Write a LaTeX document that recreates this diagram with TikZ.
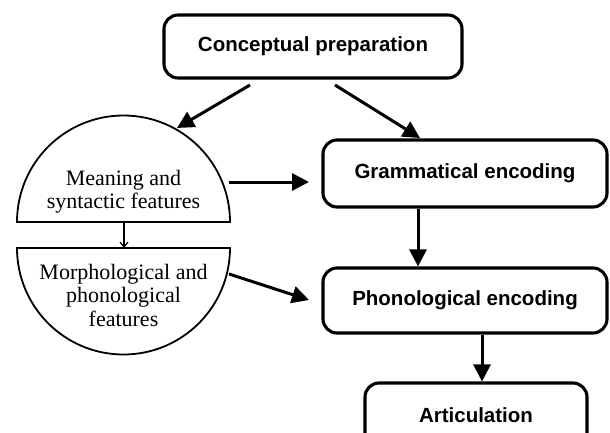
\documentclass[tikz,border=0pt]{standalone}
\usepackage{fontspec}
\setmainfont{Liberation Serif}
\setsansfont{Liberation Sans}
\usetikzlibrary{arrows.meta}
\begin{document}
\begin{tikzpicture}[x=1pt,y=-1pt,
  box/.style={draw, line width=3.1pt, rounded corners=14pt, inner sep=0pt,
    font=\sffamily\bfseries\fontsize{20.5}{24}\selectfont},
  arr/.style={line width=3pt, -{Triangle[length=17pt,width=17pt]}},
  thinarr/.style={line width=1.2pt, -{Straight Barb[length=5pt,width=8pt]}},
  half/.style={line width=1.8pt},
  lbl/.style={font=\fontsize{22}{23.5}\selectfont, align=center, inner sep=0pt}]
\useasboundingbox (0,0) rectangle (610,433);
\clip (0,0) rectangle (610,433);
% boxes
\node[box, minimum width=298pt, minimum height=63pt] (concept) at (313,46.5) {Conceptual preparation};
\node[box, minimum width=284pt, minimum height=67pt] (gram) at (465,173.5) {Grammatical encoding};
\node[box, minimum width=284pt, minimum height=65pt] (phon) at (465,300.5) {Phonological encoding};
\node[box, minimum width=222pt, minimum height=64pt] (artic) at (476,415) {Articulation};
% half circles
\draw[half] (17,222) arc[start angle=180, end angle=0, radius=106.5pt] -- cycle;
\draw[half] (17,248) arc[start angle=180, end angle=360, radius=106.5pt] -- cycle;
\node[lbl] (meaning) at (123.5,191.6) {Meaning and\\syntactic features};
\node[lbl] (morph) at (123.5,295) {Morphological and\\phonological\\features};
% connector ends
\coordinate (cL) at (250,85);
\coordinate (uTop) at (177,128);
\coordinate (cR) at (335,85);
\coordinate (gTop) at (420,138);
\coordinate (uR) at (229,182);
\coordinate (gL) at (309,182);
\coordinate (uBot) at (124,222);
\coordinate (lTop) at (124,248);
\coordinate (lR) at (229,274);
\coordinate (pL) at (309,300);
% connectors
\draw[arr] (cL) -- (uTop);
\draw[arr] (cR) -- (gTop);
\draw[arr] (uR) -- (gL);
\draw[thinarr] (uBot) -- (lTop);
\draw[arr] (lR) -- (pL);
\draw[arr] ([xshift=-47pt]gram.south) -- ([xshift=-47pt]phon.north);
\draw[arr] ([xshift=17pt]phon.south) -- ([xshift=6pt]artic.north);
\end{tikzpicture}
\end{document}
